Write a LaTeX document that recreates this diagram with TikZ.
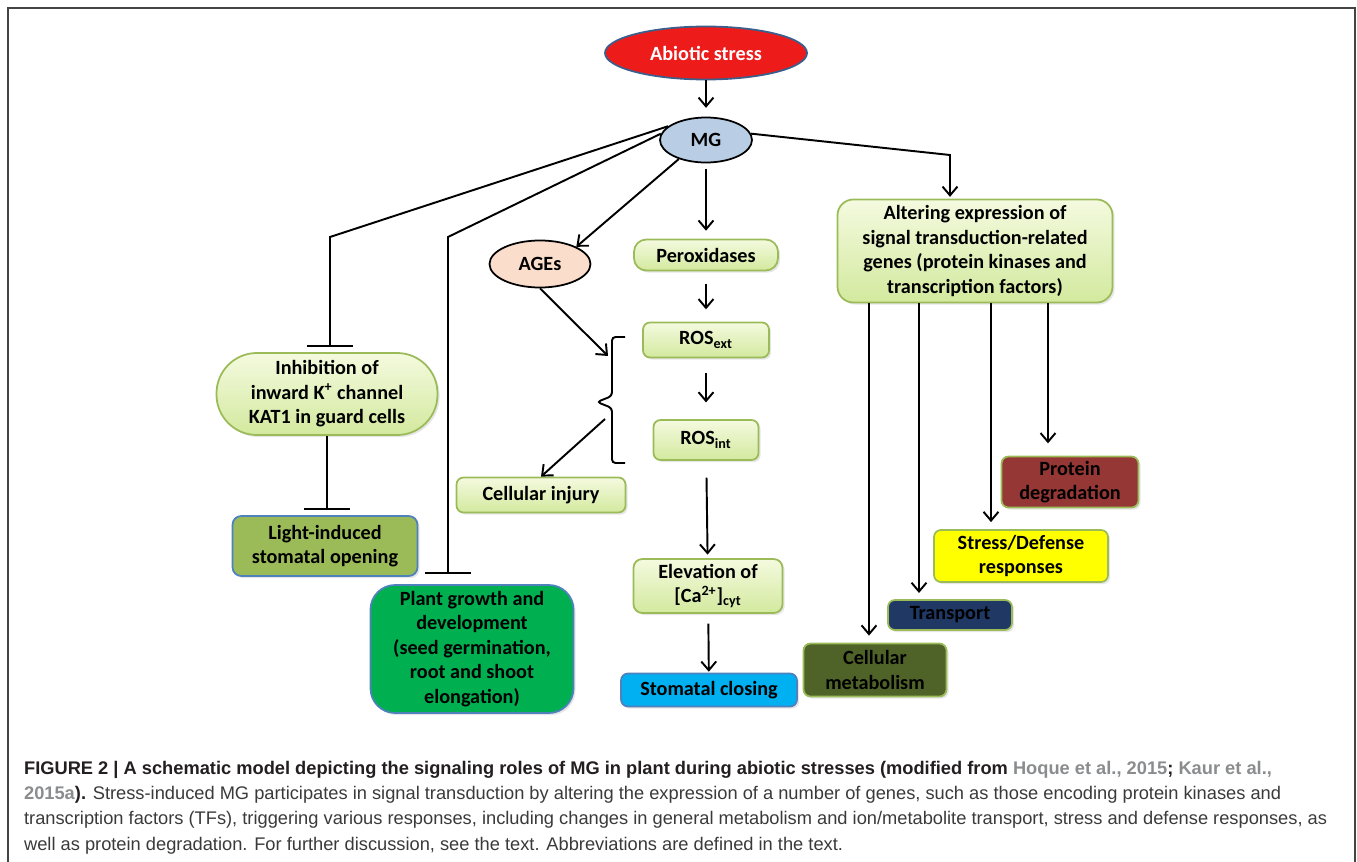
\documentclass[tikz,border=0pt]{standalone}
\usepackage{fontspec}
\setmainfont{Liberation Sans}
\newfontfamily\boxfont{Carlito}
\usetikzlibrary{shapes.geometric,arrows.meta,shadows}

\definecolor{lgtop}{HTML}{F4FADF}
\definecolor{lgbot}{HTML}{D3E99E}
\definecolor{lgdraw}{HTML}{9BBB59}
\definecolor{stressred}{HTML}{EE1B1B}
\definecolor{stressedge}{HTML}{3A5F8C}
\definecolor{mgblue}{HTML}{B9CDE5}
\definecolor{agepeach}{HTML}{FADDCB}
\definecolor{bluedraw}{HTML}{4F81BD}
\definecolor{olive}{HTML}{9BBB59}
\definecolor{plantgreen}{HTML}{00B050}
\definecolor{skyblue}{HTML}{00B0F0}
\definecolor{degred}{HTML}{953735}
\definecolor{defyellow}{HTML}{FFFF00}
\definecolor{navy}{HTML}{1F3864}
\definecolor{darkolive}{HTML}{4F6228}
\definecolor{capblack}{HTML}{231F20}
\definecolor{captext}{HTML}{3A3A3A}
\definecolor{refgray}{HTML}{8A8C8E}
\definecolor{framegray}{HTML}{444444}

\newcommand{\pxu}{0.02cm}

\tikzset{
  every node/.style={font=\boxfont\bfseries\fontsize{11.5}{14}\selectfont, align=center, inner sep=1pt},
  oval/.style={ellipse, draw, line width=1pt},
  greenbox/.style={rectangle, rounded corners=#1, draw=lgdraw, line width=1pt,
    top color=lgtop, bottom color=lgbot,
    drop shadow={opacity=0.2, shadow xshift=1.2pt, shadow yshift=-1.2pt}},
  greenbox/.default=4pt,
  colbox/.style={rectangle, rounded corners=4pt, draw=lgdraw, line width=1pt, fill=#1,
    drop shadow={opacity=0.2, shadow xshift=1.2pt, shadow yshift=-1.2pt}},
  arr/.style={-{Straight Barb[length=5pt,width=8.5pt]}, line width=1.1pt},
  inh/.style={-{Bar[width=26pt]}, line width=1.1pt, shorten >=3pt},
  gap/.style 2 args={shorten <=#1, shorten >=#2}
}

\begin{document}
\begin{tikzpicture}[x=0.02cm, y=-0.02cm]
  \useasboundingbox (0,0) rectangle (1357,862);
  \draw[framegray, line width=1pt] (8,862) -- (8,8) -- (1355,8) -- (1355,862);

  % centre column
  \node[oval, draw=stressedge, fill=stressred, text=white, minimum width=202*\pxu, minimum height=53*\pxu] (stress) at (706,53) {Abiotic stress};
  \node[oval, fill=mgblue, minimum width=92*\pxu, minimum height=45*\pxu] (mg) at (706,140) {MG};
  \node[greenbox=7pt, minimum width=144*\pxu, minimum height=31*\pxu] (perox) at (706,255) {Peroxidases};
  \node[greenbox, minimum width=126*\pxu, minimum height=35*\pxu] (rosext) at (706,340) {ROS\textsubscript{ext}};
  \node[greenbox, minimum width=105*\pxu, minimum height=40*\pxu] (rosint) at (706,440) {ROS\textsubscript{int}};
  \node[greenbox=5pt, minimum width=149*\pxu, minimum height=54*\pxu] (elev) at (708,586) {Elevation of\\{}[Ca\textsuperscript{2+}]\textsubscript{cyt}};
  \node[rectangle, rounded corners=4pt, draw=bluedraw, line width=1pt, fill=skyblue, minimum width=176*\pxu, minimum height=33*\pxu,
    drop shadow={opacity=0.2, shadow xshift=1.2pt, shadow yshift=-1.2pt}] (stoma) at (709,690) {Stomatal closing};

  % AGEs branch
  \node[oval, fill=agepeach, minimum width=101*\pxu, minimum height=47*\pxu] (ages) at (540,264) {AGEs};
  \node[greenbox, minimum width=169*\pxu, minimum height=35*\pxu] (inj) at (541,495) {Cellular injury};

  % left branch
  \node[greenbox=23pt, minimum width=221*\pxu, minimum height=82*\pxu] (inhib) at (327,394) {Inhibition of\\inward K\textsuperscript{+} channel\\KAT1 in guard cells};
  \node[rectangle, rounded corners=5pt, draw=bluedraw, line width=1pt, fill=olive, minimum width=185*\pxu, minimum height=60*\pxu,
    drop shadow={opacity=0.2, shadow xshift=1.2pt, shadow yshift=-1.2pt}] (light) at (325,546) {Light-induced\\stomatal opening};
  \node[rectangle, rounded corners=14pt, draw=bluedraw, line width=1pt, fill=plantgreen, minimum width=203*\pxu, minimum height=128*\pxu,
    drop shadow={opacity=0.2, shadow xshift=1.2pt, shadow yshift=-1.2pt}] (plant) at (472,649) {Plant growth and\\development\\(seed germination,\\root and shoot\\elongation)};

  % right branch
  \node[greenbox=9pt, minimum width=275*\pxu, minimum height=103*\pxu] (alter) at (975,251) {Altering expression of\\signal transduction-related\\genes (protein kinases and\\transcription factors)};
  \node[colbox=degred, minimum width=137*\pxu, minimum height=51*\pxu] (deg) at (1070,482) {Protein\\degradation};
  \node[colbox=defyellow, minimum width=174*\pxu, minimum height=52*\pxu] (defense) at (1021,556) {Stress/Defense\\responses};
  \node[colbox=navy, minimum width=124*\pxu, minimum height=30*\pxu] (trans) at (950,615) {Transport};
  \node[colbox=darkolive, minimum width=143*\pxu, minimum height=53*\pxu] (meta) at (875,670) {Cellular\\metabolism};

  \coordinate (k1) at (330,237);
  \coordinate (k2) at (448,237);
  \coordinate (k3) at (950,155);
  \coordinate (r1) at (869,303);
  \coordinate (r2) at (919,303);
  \coordinate (r3) at (991,303);
  \coordinate (r4) at (1048,303);
  \coordinate (bin) at (608,356);
  \coordinate (bout) at (605,419);

  % bracket
  \draw[line width=1.1pt, rounded corners=2pt] (625,337) -- (612,337) -- (612,396) -- (597,402) -- (612,408) -- (612,463) -- (625,463);

  \path[arr] (stress) edge[gap={0pt}{5pt}] (mg)
             (mg) edge[gap={3pt}{4.5pt}] (perox)
             (perox) edge[gap={7pt}{7pt}] (rosext)
             (rosext) edge[gap={8.5pt}{9.5pt}] (rosint)
             (rosint) edge[gap={9.5pt}{2pt}] (elev)
             (elev) edge[gap={5.5pt}{0.5pt}] (stoma);
  \draw[arr] (mg.215) -- (ages.north east);
  \draw[arr] (ages.south) -- (bin);
  \draw[arr] (bout) -- (inj.north);

  \draw[inh] (mg.160) -- (k1) -- (k1 |- inhib.north);
  \draw[inh] (inhib.south) -- (inhib.south |- light.north);
  \draw[inh, shorten >=6pt] (mg.172) -- (k2) -- (k2 |- plant.north);

  \draw[arr, shorten >=1pt] (mg.8) -- (k3) -- (k3 |- alter.north);
  \draw[arr, shorten >=4pt] (r1) -- (r1 |- meta.north);
  \draw[arr, shorten >=3.5pt] (r2) -- (r2 |- trans.north);
  \draw[arr, shorten >=4pt] (r3) -- (r3 |- defense.north);
  \draw[arr, shorten >=7pt] (r4) -- (r4 |- deg.north);

  \node[anchor=north west, align=left, text=captext, font=\normalfont\fontsize{10.4}{14.4}\selectfont] (caption) at (22,759)
    {\textbf{\color{capblack}FIGURE 2 | A schematic model depicting the signaling roles of MG in plant during abiotic stresses (modified from \textcolor{refgray}{Hoque et al., 2015}; \textcolor{refgray}{Kaur et al.,}}\\
     \textbf{\textcolor{refgray}{2015a}\color{capblack}).} Stress-induced MG participates in signal transduction by altering the expression of a number of genes, such as those encoding protein kinases and\\
     transcription factors (TFs), triggering various responses, including changes in general metabolism and ion/metabolite transport, stress and defense responses, as\\
     well as protein degradation. For further discussion, see the text. Abbreviations are defined in the text.};
\end{tikzpicture}
\end{document}
